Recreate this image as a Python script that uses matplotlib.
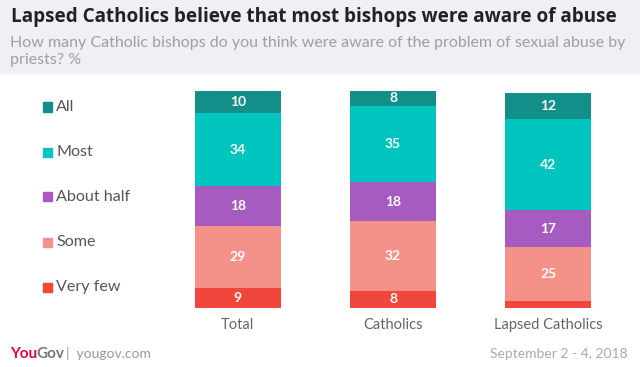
import matplotlib.pyplot as plt
from matplotlib.patches import Rectangle

# survey data, percent
groups = ["Total", "Catholics", "Lapsed Catholics"]
answers = ["Very few", "Some", "About half", "Most", "All"]
very_few = [9, 8, 3]
some = [29, 32, 25]
about_half = [18, 18, 17]
most = [34, 35, 42]
all_ = [10, 8, 12]
values = [very_few, some, about_half, most, all_]

colors = ["#f0463c", "#f4928a", "#a55bc0", "#00c4be", "#138f8a"]

W, H = 640, 367
fig = plt.figure(figsize=(W / 100, H / 100), dpi=100)
plt.rcParams['font.family'] = ['Lato', 'DejaVu Sans']

def fx(px):
    return px / W

def fy(py):
    return 1 - py / H

# grey header
fig.patches.append(Rectangle((0, fy(73)), 1, 73 / H, transform=fig.transFigure,
                             color="#efeff4", zorder=0))
fig.text(fx(11), fy(17), "Lapsed Catholics believe that most bishops were aware of abuse",
         fontsize=13.6, fontweight="bold", color="#222222", va="center",
         family=["Open Sans", "DejaVu Sans"])
fig.text(fx(10), fy(51.5), "How many Catholic bishops do you think were aware of the problem of sexual abuse by\npriests? %",
         fontsize=11.5, color="#a0a0a0", va="center", linespacing=1.3)

# bars
ax = fig.add_axes([fx(160), fy(308), fx(626) - fx(160), 217 / H])
x = range(len(groups))
bottom = [0, 0, 0]
for vals, col in zip(values, colors):
    ax.bar(x, vals, width=0.555, bottom=bottom, color=col)
    for i, v in enumerate(vals):
        if v >= 5:
            ax.text(i, bottom[i] + v / 2, str(v), ha="center", va="center",
                    color="white", fontsize=10, fontweight="bold")
    bottom = [b + v for b, v in zip(bottom, vals)]

ax.set_xlim(-0.5, 2.5)
ax.set_ylim(0, 100)
ax.axis("off")
for i, g in enumerate(groups):
    ax.text(i, -8, g, ha="center", va="center", fontsize=10.5, color="#666666")

# legend
for i, (lab, col) in enumerate(zip(answers[::-1], colors[::-1])):
    py = 107 + 45 * i
    fig.patches.append(Rectangle((fx(43), fy(py + 4.5)), 9 / W, 9 / H,
                                 transform=fig.transFigure, color=col))
    fig.text(fx(56), fy(py), lab, fontsize=11.6, color="#555555", va="center")

# footer
fig.text(fx(10), fy(354), "You", fontsize=11, fontweight="bold", color="#e4003b", va="center")
fig.text(fx(36), fy(354), "Gov", fontsize=11, fontweight="bold", color="#777777", va="center")
fig.text(fx(66), fy(354), "|  yougov.com", fontsize=10, color="#999999", va="center")
fig.text(fx(628), fy(354), "September 2 - 4, 2018", fontsize=10, color="#aaaaaa",
         va="center", ha="right")

fig.savefig("out.png", dpi=100)
